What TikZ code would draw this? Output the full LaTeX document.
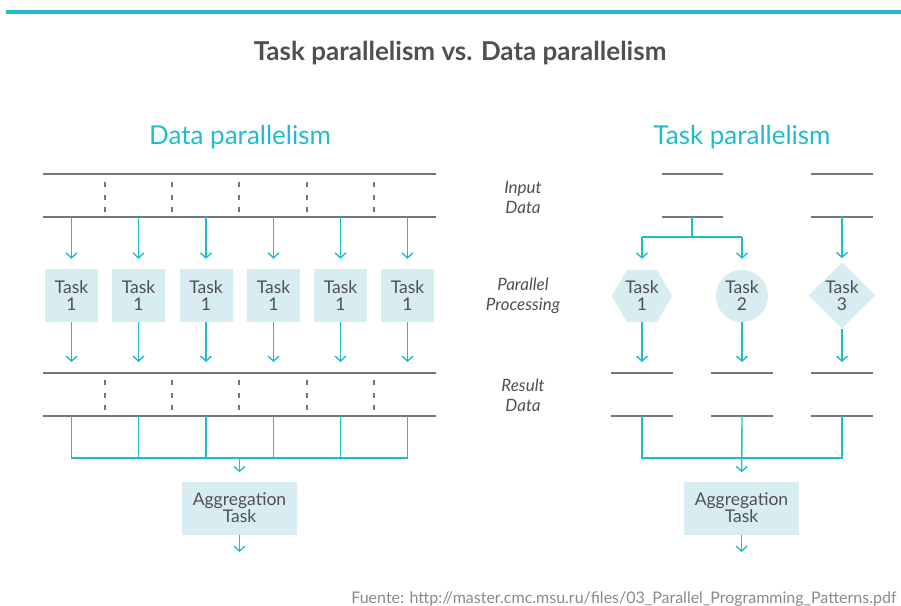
\documentclass[tikz,border=0pt]{standalone}
\usepackage{fontspec}
\setmainfont{Lato}
\usetikzlibrary{shapes.geometric,arrows.meta}
\definecolor{tealline}{HTML}{1FBDCC}
\definecolor{tealfill}{HTML}{D7EDF2}
\definecolor{greyline}{HTML}{767676}
\definecolor{greytext}{HTML}{505050}
\definecolor{greysource}{HTML}{8A8A8A}
\tikzset{
	datarule/.style={draw=greyline, line width=2pt},
	splitrule/.style={draw=greyline, line width=1.3pt, dash pattern=on 5pt off 7.5pt},
	flow/.style={draw=tealline, line width=1.4pt},
	flowarrow/.style={flow, -{Straight Barb[length=5pt,width=11pt,line width=1.4pt]}},
	tasktext/.style={text=greytext, align=center, inner sep=0pt, font=\fontsize{17.5}{17}\selectfont},
	taskbox/.style={tasktext, fill=tealfill, minimum width=53pt, minimum height=53pt},
	aggbox/.style={tasktext, fill=tealfill, minimum width=115pt, minimum height=53pt},
	hexbox/.style={tasktext, fill=tealfill, regular polygon, regular polygon sides=6, minimum size=60pt},
	roundbox/.style={tasktext, fill=tealfill, circle, minimum size=52pt},
	diabox/.style={tasktext, fill=tealfill, diamond, minimum width=67pt, minimum height=66pt},
	sidelabel/.style={text=greytext, align=center, font=\fontsize{17}{20}\selectfont\itshape},
	heading/.style={text=tealline, font=\fontsize{26}{30}\selectfont}
}
\begin{document}
\begin{tikzpicture}[x=1pt, y=-1pt]
			\useasboundingbox (0,0) rectangle (901,605);
			\fill[tealline] (6,10) rectangle (901,14);
			\node[text=greytext, font=\bfseries\fontsize{26}{30}\selectfont] (title) at (460,53) {Task parallelism vs. Data parallelism};
			\node[heading] (dhead) at (240,137) {Data parallelism};
			\node[heading] (thead) at (742,137) {Task parallelism};
			\node[sidelabel] (lin) at (523,197) {Input\\Data};
			\node[sidelabel] (lproc) at (523,296) {Parallel\\Processing};
			\node[sidelabel] (lres) at (523,395) {Result\\Data};

			\coordinate (inA) at (43,174);
			\coordinate (inB) at (43,217);
			\coordinate (resA) at (43,373);
			\coordinate (resB) at (43,416);
			\coordinate (dmerge) at (239,458);
			\draw[datarule] (inA) -- (436,174);
			\draw[datarule] (inB) -- (436,217);
			\draw[datarule] (resA) -- (436,373);
			\draw[datarule] (resB) -- (436,416);
			\draw[splitrule] (105,182) -- (105,212);
			\draw[splitrule] (172,182) -- (172,212);
			\draw[splitrule] (239,182) -- (239,212);
			\draw[splitrule] (307,182) -- (307,212);
			\draw[splitrule] (374,182) -- (374,212);
			\draw[splitrule] (105,380) -- (105,410);
			\draw[splitrule] (172,380) -- (172,410);
			\draw[splitrule] (239,380) -- (239,410);
			\draw[splitrule] (307,380) -- (307,410);
			\draw[splitrule] (374,380) -- (374,410);

			\node[taskbox] (dt1) at (71.5,295.5) {Task\\1};
			\node[taskbox] (dt2) at (138.5,295.5) {Task\\1};
			\node[taskbox] (dt3) at (206,295.5) {Task\\1};
			\node[taskbox] (dt4) at (273.5,295.5) {Task\\1};
			\node[taskbox] (dt5) at (340.5,295.5) {Task\\1};
			\node[taskbox] (dt6) at (407.5,295.5) {Task\\1};
			\node[aggbox] (dagg) at (239.5,508) {Aggregation\\Task};
			\coordinate (dout) at (239.5,552);

			\draw[flowarrow, shorten >=10pt] (dt1 |- inB) -- (dt1);
			\draw[flowarrow, shorten >=10pt] (dt2 |- inB) -- (dt2);
			\draw[flowarrow, shorten >=10pt] (dt3 |- inB) -- (dt3);
			\draw[flowarrow, shorten >=10pt] (dt4 |- inB) -- (dt4);
			\draw[flowarrow, shorten >=10pt] (dt5 |- inB) -- (dt5);
			\draw[flowarrow, shorten >=10pt] (dt6 |- inB) -- (dt6);
			\draw[flowarrow, shorten >=11pt] (dt1) -- (dt1 |- resA);
			\draw[flowarrow, shorten >=11pt] (dt2) -- (dt2 |- resA);
			\draw[flowarrow, shorten >=11pt] (dt3) -- (dt3 |- resA);
			\draw[flowarrow, shorten >=11pt] (dt4) -- (dt4 |- resA);
			\draw[flowarrow, shorten >=11pt] (dt5) -- (dt5 |- resA);
			\draw[flowarrow, shorten >=11pt] (dt6) -- (dt6 |- resA);
			\draw[flow] (dt1 |- resB) |- (dt6 |- dmerge) -- (dt6 |- resB);
			\draw[flow] (dt2 |- resB) -- (dt2 |- dmerge);
			\draw[flow] (dt3 |- resB) -- (dt3 |- dmerge);
			\draw[flow] (dt4 |- resB) -- (dt4 |- dmerge);
			\draw[flow] (dt5 |- resB) -- (dt5 |- dmerge);
			\draw[flowarrow, shorten >=9pt] (dagg |- dmerge) -- (dagg);
			\draw[flowarrow] (dagg) -- (dout);

			\coordinate (fork) at (692,217);
			\coordinate (forkmid) at (692,237);
			\coordinate (tresA) at (611,373);
			\coordinate (tresB) at (611,416);
			\coordinate (tmerge) at (742,458);
			\draw[datarule] (662,174) -- (723,174);
			\draw[datarule] (662,217) -- (723,217);
			\draw[datarule] (811,174) -- (873,174);
			\draw[datarule] (811,217) -- (873,217);
			\draw[datarule] (tresA) -- (673,373);
			\draw[datarule] (711,373) -- (773,373);
			\draw[datarule] (811,373) -- (873,373);
			\draw[datarule] (tresB) -- (673,416);
			\draw[datarule] (711,416) -- (773,416);
			\draw[datarule] (811,416) -- (873,416);

			\node[hexbox] (tt1) at (642,296) {Task\\1};
			\node[roundbox] (tt2) at (742,296) {Task\\2};
			\node[diabox] (tt3) at (842,295.5) {Task\\3};
			\node[aggbox] (tagg) at (741.5,508) {Aggregation\\Task};
			\coordinate (tout) at (741.5,552);

			\draw[flow] (fork) -- (forkmid);
			\draw[flow] (tt1 |- forkmid) -- (tt2 |- forkmid);
			\draw[flowarrow, shorten >=11pt] (tt1 |- forkmid) -- (tt1);
			\draw[flowarrow, shorten >=11pt] (tt2 |- forkmid) -- (tt2);
			\draw[flowarrow, shorten >=4pt] (tt3 |- fork) -- (tt3);
			\draw[flowarrow, shorten >=11pt] (tt1) -- (tt1 |- tresA);
			\draw[flowarrow, shorten >=11pt] (tt2) -- (tt2 |- tresA);
			\draw[flowarrow, shorten >=11pt] (tt3) -- (tt3 |- tresA);
			\draw[flow] (tt1 |- tresB) |- (tt3 |- tmerge) -- (tt3 |- tresB);
			\draw[flowarrow, shorten >=9pt] (tt2 |- tresB) -- (tagg);
			\draw[flowarrow] (tagg) -- (tout);

			\node[anchor=base east, text=greysource, font=\fontsize{16}{18}\selectfont] (src) at (900,603) {Fuente: http://master.cmc.msu.ru/files/03\_Parallel\_Programming\_Patterns.pdf};
		\end{tikzpicture}
\end{document}
